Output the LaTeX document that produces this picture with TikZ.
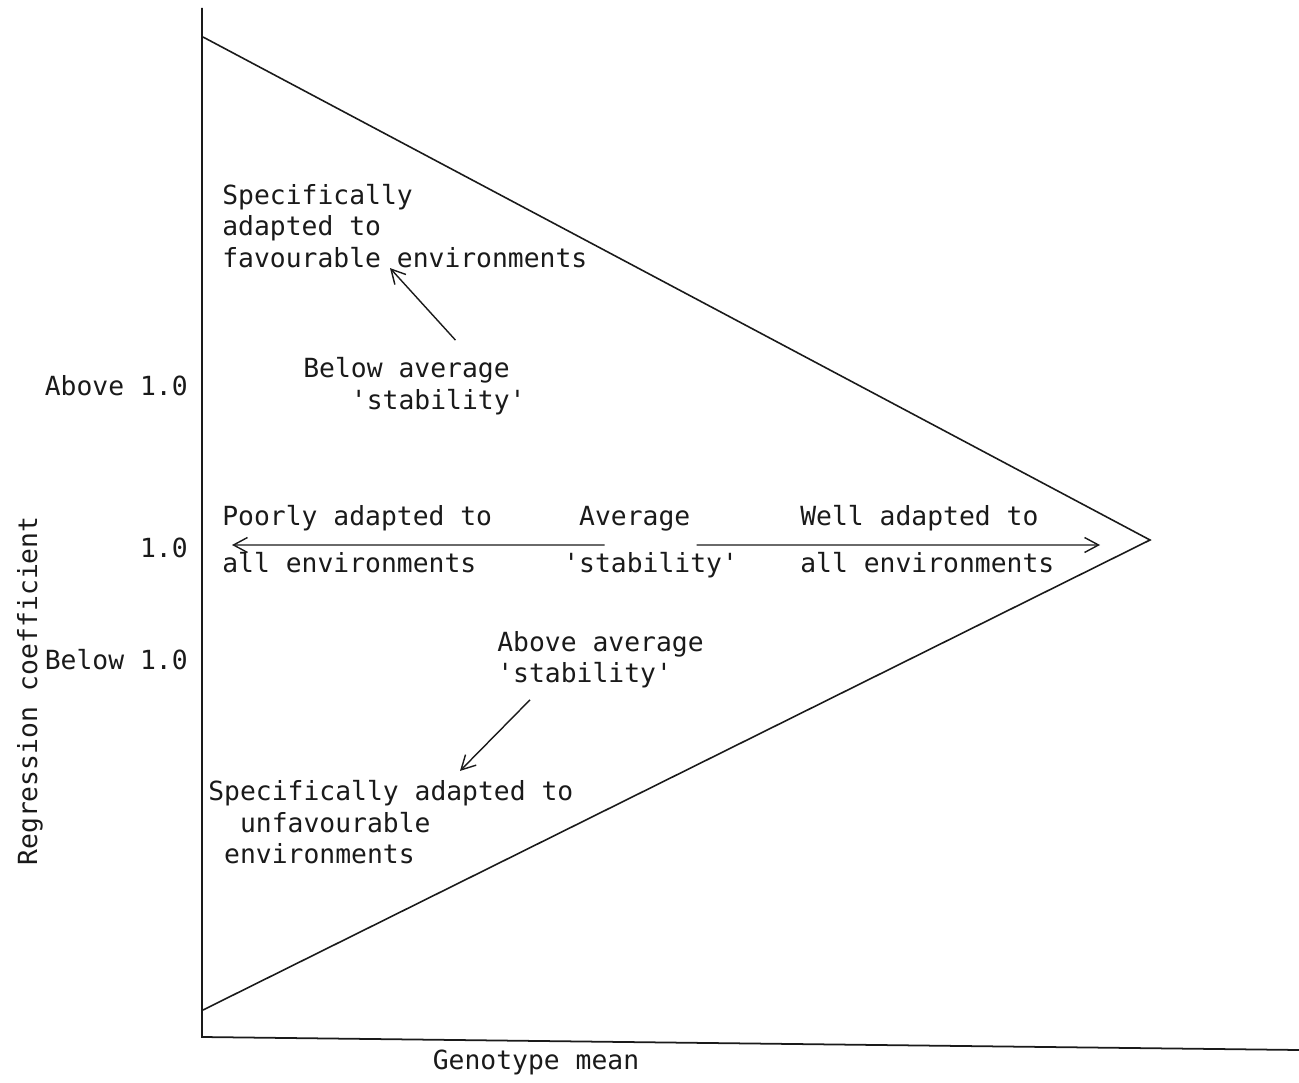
\documentclass[tikz,border=0pt]{standalone}
\usepackage{fontspec}
\setmonofont{DejaVu Sans Mono}
\usetikzlibrary{arrows.meta}

\begin{document}
\begin{tikzpicture}[
    labeltext/.style={font=\ttfamily\fontsize{15}{17.9}\selectfont, text=inkColour, inner sep=0pt},
    block/.style={labeltext, align=left, anchor=west},
    pointer/.style={draw=inkColour, line width=0.8pt, -{Straight Barb[length=2.8mm,width=3mm]}}
]
    % Define colours
    \definecolor{inkColour}{HTML}{1A1A1A}

    % Fix page size
    \useasboundingbox (0,0) rectangle (25.98,21.64);

    % Define axis end points
    \coordinate (O) at (4.04,0.90);
    \coordinate (T) at (4.04,21.48);
    \coordinate (E) at (25.98,0.64);

    % Draw axes
    \draw[inkColour, line width=1pt] (T) -- (O) -- (E);

    % Define coordinates for the vertices of the triangle
    \coordinate (P) at (4.06,20.90);
    \coordinate (Q) at (23.00,10.84);
    \coordinate (R) at (4.06,1.44);

    % Draw triangle
    \draw[inkColour, line width=0.9pt] (P) -- (Q) -- (R);

    % Label y-axis and x-axis
    \node[labeltext, anchor=east] (aboveone) at (3.76,13.92) {Above 1.0};
    \node[labeltext, anchor=east] (one) at (3.76,10.68) {1.0};
    \node[labeltext, anchor=east] (belowone) at (3.76,8.44) {Below 1.0};
    \node[labeltext, rotate=90] (ylabel) at (0.60,7.82) {Regression coefficient};
    \node[labeltext] (xlabel) at (10.72,0.40) {Genotype mean};

    % Label regions
    \node[block] (fav) at (4.44,17.12) {Specifically\\adapted to\\favourable environments};
    \node[block] (lowstab) at (6.06,13.92) {Below average\\~~~'stability'};
    \node[block] (poor) at (4.44,10.85) {Poorly adapted to\\[0.31cm]all environments};
    \node[block] (avg) at (11.26,10.79) {~Average\\[0.31cm]'stability'};
    \node[block] (well) at (16.00,10.85) {Well adapted to\\[0.31cm]all environments};
    \node[block] (highstab) at (9.94,8.44) {Above average\\'stability'};
    \node[block] (unfav) at (4.16,5.19) {Specifically adapted to\\~~unfavourable\\~environments};

    % Define arrow tips
    \coordinate (poortip) at (4.64,10.74);
    \coordinate (welltip) at (22.00,10.74);

    % Draw arrows
    \draw[pointer] ([shift={(-0.92,-0.05)}]avg.center) -- (poortip);
    \draw[pointer] ([shift={(0.92,-0.05)}]avg.center) -- (welltip);
    \draw[pointer] ([xshift=0.82cm, yshift=0.34cm]lowstab.north) -- ([xshift=3.36cm]fav.south west);
    \draw[pointer] ([xshift=0.66cm, yshift=-0.22cm]highstab.south west) -- ([xshift=5.04cm, yshift=0.19cm]unfav.north west);

\end{tikzpicture}
\end{document}
